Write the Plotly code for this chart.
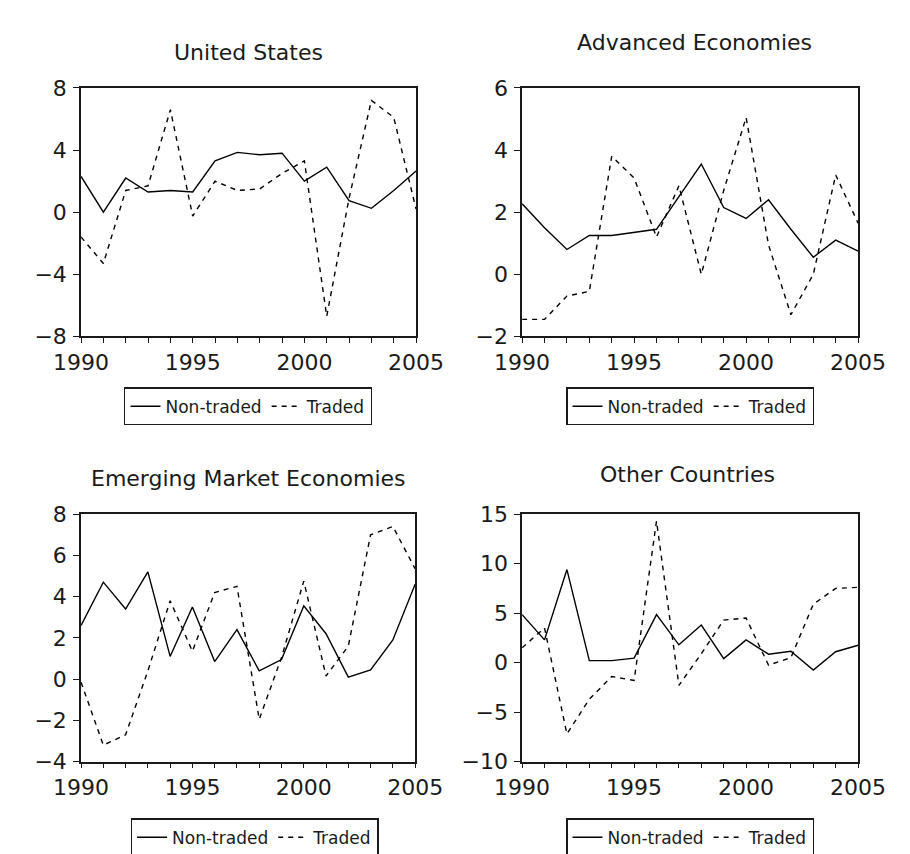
import plotly.graph_objects as go

years = list(range(1990, 2006))

us_nontraded = [2.3, 0.0, 2.2, 1.3, 1.4, 1.3, 3.3, 3.85, 3.7, 3.8, 2.0, 2.9, 0.75, 0.25, 1.4, 2.65]
us_traded = [-1.6, -3.3, 1.4, 1.7, 6.6, -0.25, 2.0, 1.4, 1.5, 2.5, 3.3, -6.7, 0.9, 7.2, 6.1, 0.2]

adv_nontraded = [2.27, 1.5, 0.8, 1.25, 1.25, 1.35, 1.45, 2.5, 3.55, 2.15, 1.8, 2.4, 1.45, 0.55, 1.1, 0.75]
adv_traded = [-1.45, -1.45, -0.7, -0.55, 3.8, 3.1, 1.2, 2.85, 0.0, 2.7, 5.05, 0.95, -1.3, 0.0, 3.2, 1.65]

em_nontraded = [2.6, 4.7, 3.4, 5.2, 1.1, 3.5, 0.85, 2.4, 0.4, 0.95, 3.55, 2.2, 0.1, 0.45, 1.9, 4.6]
em_traded = [-0.15, -3.2, -2.7, 0.4, 3.8, 1.35, 4.2, 4.5, -1.95, 1.05, 4.75, 0.15, 1.6, 7.0, 7.4, 5.35]

oth_nontraded = [4.85, 2.3, 9.4, 0.2, 0.2, 0.45, 4.85, 1.8, 3.8, 0.4, 2.3, 0.85, 1.15, -0.75, 1.1, 1.75]
oth_traded = [1.5, 3.5, -7.2, -3.7, -1.4, -1.8, 14.3, -2.3, 0.9, 4.3, 4.5, -0.25, 0.5, 5.9, 7.5, 7.6]

titles = ["United States", "Advanced Economies", "Emerging Market Economies", "Other Countries"]
series_names = ["Non-traded", "Traded"]
x_labels = ["1990", "", "", "", "", "1995", "", "", "", "", "2000", "", "", "", "", "2005"]
y_ranges = [(-8, 8, 4), (-2, 6, 2), (-4, 8, 2), (-10, 15, 5)]

W, H = 910, 854
FONT = "DejaVu Sans"
INK = "#1a1a1a"

# panel boxes in pixels (left, right, top, bottom)
boxes = [(48, 405, 70, 326), (518, 876, 70, 326), (48, 404, 509, 764), (518, 876, 509, 764)]
title_pos = [(226, 33), (702, 23), (226, 472), (694, 468)]
legend_pos = [(226, 398), (697, 398), (233, 842), (697, 842)]

data = [(us_nontraded, us_traded), (adv_nontraded, adv_traded),
        (em_nontraded, em_traded), (oth_nontraded, oth_traded)]

fig = go.Figure()
layout = dict(
    width=W, height=H, margin=dict(l=0, r=0, t=0, b=0),
    paper_bgcolor="white", plot_bgcolor="white",
    font=dict(family=FONT, color=INK),
    annotations=[],
)

for i, (nt, tr) in enumerate(data):
    k = "" if i == 0 else str(i + 1)
    xa, ya = "x" + k, "y" + k
    lg = "legend" + k
    fig.add_trace(go.Scatter(x=years, y=nt, mode="lines", name=series_names[0],
                             line=dict(color="black", width=1.4),
                             xaxis=xa, yaxis=ya, legend=lg))
    fig.add_trace(go.Scatter(x=years, y=tr, mode="lines", name=series_names[1],
                             line=dict(color="black", width=1.4, dash="5px,5px"),
                             xaxis=xa, yaxis=ya, legend=lg))
    l, r, t, b = boxes[i]
    y0, y1, dt = y_ranges[i]
    layout["xaxis" + k] = dict(
        domain=[l / W, r / W], anchor=ya, range=[1990, 2005],
        tickmode="array", tickvals=years, ticktext=x_labels,
        ticks="outside", ticklen=5, tickwidth=1.3, tickcolor=INK,
        showline=True, linecolor=INK, linewidth=1.6, mirror=True,
        showgrid=False, zeroline=False,
        tickfont=dict(family=FONT, size=22, color=INK),
    )
    layout["yaxis" + k] = dict(
        domain=[1 - b / H, 1 - t / H], anchor=xa, range=[y0, y1],
        tick0=y0, dtick=dt, ticks="outside", ticklen=6, tickwidth=1.3, tickcolor=INK,
        showline=True, linecolor=INK, linewidth=1.6, mirror=True,
        showgrid=False, zeroline=False, ticklabelstandoff=2,
        tickfont=dict(family=FONT, size=22, color=INK),
    )
    lx, ly = legend_pos[i]
    layout[lg] = dict(
        orientation="h", x=lx / W, xanchor="center", y=1 - ly / H, yanchor="middle",
        xref="paper", yref="paper",
        bordercolor=INK, borderwidth=1.4, bgcolor="white",
        font=dict(family=FONT, size=17, color=INK),
        itemwidth=30, tracegroupgap=0, itemclick=False,
    )
    tx, ty = title_pos[i]
    layout["annotations"].append(dict(
        text=titles[i], x=tx / W, y=1 - ty / H, xref="paper", yref="paper",
        xanchor="center", yanchor="middle", showarrow=False,
        font=dict(family=FONT, size=22, color=INK),
    ))

fig.update_layout(**layout)
fig.write_html("out.html")
